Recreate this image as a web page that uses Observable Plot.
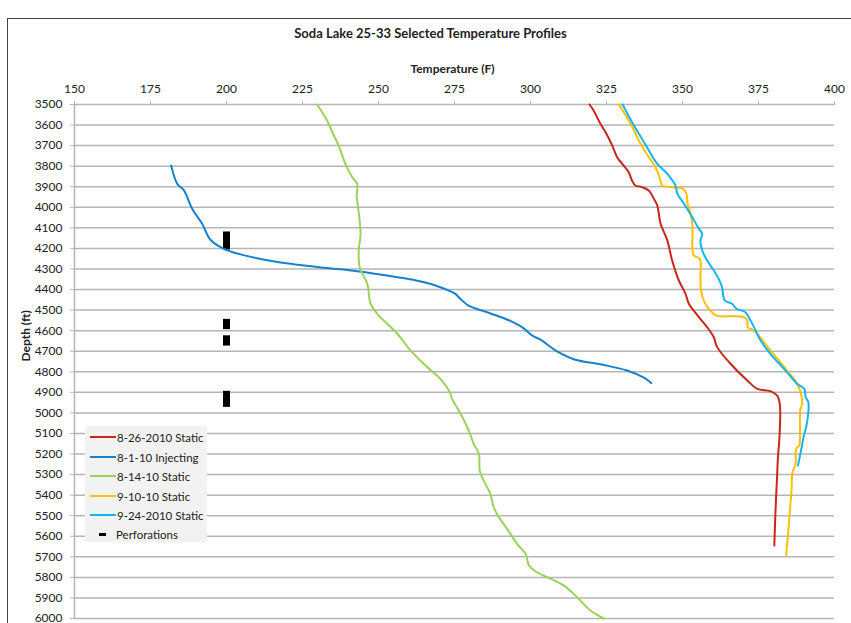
<!DOCTYPE html>
<html>
<head>
<meta charset="utf-8">
<script src="https://cdn.jsdelivr.net/npm/d3@7"></script>
<script src="https://cdn.jsdelivr.net/npm/@observablehq/plot@0.6"></script>
<style>
  html, body { margin: 0; padding: 0; background: #fff; }
  #wrap { position: relative; width: 851px; height: 623px; overflow: hidden; font-family: Lato, "Open Sans", sans-serif; }
  #frame { position: absolute; left: 7px; top: 18px; width: 900px; height: 700px; border-left: 1.5px solid #444; border-top: 1.5px solid #444; }
  #chart { position: absolute; left: 0; top: 0; }
  #legend { position: absolute; left: 85px; top: 426px; width: 122px; height: 116px; background: #f2f2f2; font-size: 11.5px; color: #222; }
  .row { position: absolute; left: 5px; height: 14px; display: flex; align-items: center; white-space: nowrap; }
  .sw { width: 26px; height: 2px; margin-right: 1px; }
  .perf { width: 7px; height: 3px; background: #000; margin: 0 10px 0 9px; }
</style>
</head>
<body>
<div id="wrap">
  <div id="frame"></div>
  <div id="chart"></div>
  <div id="legend"></div>
</div>
<script>
// ---- Data ----
const title = "Soda Lake 25-33 Selected Temperature Profiles";
const xLabel = "Temperature (F)";
const yLabel = "Depth (ft)";
const tempTicks = [150, 175, 200, 225, 250, 275, 300, 325, 350, 375, 400];
const depthTicks = [3500, 3600, 3700, 3800, 3900, 4000, 4100, 4200, 4300, 4400, 4500, 4600, 4700, 4800, 4900, 5000, 5100, 5200, 5300, 5400, 5500, 5600, 5700, 5800, 5900, 6000];

const seriesNames = ["8-26-2010 Static", "8-1-10 Injecting", "8-14-10 Static", "9-10-10 Static", "9-24-2010 Static"];
const seriesColors = ["#c9261b", "#1681cf", "#98d35a", "#ffc000", "#13b5ee"];

const redDepth = [3500, 3530, 3594, 3635, 3700, 3756, 3789, 3829, 3870, 3894, 3902, 3918, 3959, 3991, 4080, 4161, 4259, 4356, 4421, 4469, 4534, 4583, 4632, 4680, 4761, 4842, 4883, 4894, 4915, 4956, 5118, 5215, 5313, 5475, 5645];
const redTemp  = [319.4, 320.8, 323.0, 324.7, 326.9, 328.5, 330.2, 332.3, 333.4, 334.5, 336.7, 338.9, 340.6, 341.7, 342.8, 345.0, 346.6, 348.8, 351.0, 352.1, 355.4, 358.1, 360.3, 361.4, 365.8, 371.3, 374.6, 378.9, 381.1, 382.0, 381.9, 381.4, 381.1, 380.6, 380.2];

const blueDepth = [3797, 3886, 3918, 4007, 4080, 4158, 4202, 4229, 4251, 4275, 4294, 4311, 4340, 4356, 4380, 4421, 4445, 4478, 4502, 4542, 4583, 4623, 4648, 4696, 4740, 4765, 4794, 4829, 4855];
const blueTemp  = [181.8, 183.8, 186.0, 188.7, 192.0, 194.7, 199.1, 204.6, 211.2, 221.1, 232.0, 243.0, 256.2, 262.4, 268.7, 275.3, 276.9, 279.6, 284.0, 291.7, 297.2, 300.5, 303.8, 308.2, 314.5, 323.5, 331.8, 337.3, 339.7];

const greenDepth = [3500, 3578, 3635, 3700, 3789, 3853, 3886, 3943, 3967, 4129, 4210, 4291, 4372, 4469, 4518, 4615, 4696, 4777, 4842, 4907, 4932, 5004, 5086, 5150, 5199, 5280, 5329, 5394, 5459, 5507, 5564, 5637, 5686, 5742, 5770, 5799, 5840, 5896, 5961, 6000];
const greenTemp  = [229.8, 233.1, 234.8, 236.9, 239.1, 241.3, 243.0, 242.8, 243.0, 244.1, 243.5, 243.8, 246.3, 247.4, 249.6, 256.2, 260.5, 266.0, 270.8, 273.7, 274.2, 277.0, 279.7, 281.3, 283.0, 283.3, 284.6, 286.8, 287.9, 289.6, 292.3, 295.6, 298.4, 299.5, 301.6, 305.5, 311.0, 315.3, 319.7, 324.1];

const yellowDepth = [3500, 3594, 3691, 3756, 3805, 3870, 3894, 3902, 3910, 3934, 3983, 4016, 4080, 4210, 4234, 4251, 4340, 4405, 4461, 4502, 4526, 4534, 4551, 4586, 4599, 4696, 4794, 4858, 4948, 4988, 5158, 5175, 5248, 5288, 5369, 5442, 5556, 5693];
const yellowTemp  = [329.1, 332.9, 336.2, 338.9, 341.1, 342.8, 343.3, 346.6, 350.2, 351.3, 351.7, 352.4, 353.2, 353.3, 353.7, 355.7, 355.9, 356.1, 357.2, 359.2, 360.9, 370.2, 371.3, 371.5, 373.5, 378.9, 384.4, 387.7, 389.4, 388.7, 388.4, 387.4, 387.2, 386.2, 385.9, 385.5, 384.9, 384.1];

const cyanDepth = [3500, 3594, 3700, 3789, 3837, 3894, 3934, 3983, 4048, 4105, 4129, 4161, 4210, 4259, 4307, 4348, 4388, 4453, 4469, 4494, 4510, 4551, 4583, 4648, 4713, 4794, 4858, 4883, 4924, 4948, 5061, 5118, 5167, 5256];
const cyanTemp  = [330.3, 333.7, 338.0, 341.7, 345.0, 347.7, 348.3, 350.5, 353.2, 355.4, 356.5, 355.9, 356.5, 358.1, 360.3, 361.9, 363.0, 363.9, 366.3, 367.8, 370.7, 372.4, 373.5, 375.7, 378.9, 383.9, 387.7, 390.1, 390.5, 391.4, 390.8, 389.8, 389.2, 388.0];

const perfLabel = "Perforations";
const perfTemp = 200;
const perfTop    = [4120, 4545, 4625, 4895];
const perfBottom = [4208, 4595, 4675, 4973];

// ---- Build table ----
const depths = [redDepth, blueDepth, greenDepth, yellowDepth, cyanDepth];
const temps = [redTemp, blueTemp, greenTemp, yellowTemp, cyanTemp];
const rows = [];
seriesNames.forEach((name, i) => {
  depths[i].forEach((d, j) => rows.push({series: name, depth: d, temp: temps[i][j]}));
});
const perfs = perfTop.map((t, i) => ({top: t, bottom: perfBottom[i]}));

const font = "Lato, 'Open Sans', sans-serif";

const chart = Plot.plot({
  width: 851,
  height: 623,
  marginTop: 104,
  marginLeft: 74,
  marginRight: 17,
  marginBottom: 5,
  style: {fontFamily: font, fontSize: "12px", color: "#222", background: "transparent"},
  x: {domain: [150, 400], axis: null},
  y: {domain: [3500, 6000], reverse: true, axis: null},
  color: {domain: seriesNames, range: seriesColors},
  marks: [
    Plot.ruleY(depthTicks, {x1: 150, x2: 400, stroke: "#b5b5b5", strokeWidth: 1.5}),
    Plot.ruleX([150], {stroke: "#b5b5b5", strokeWidth: 1.5}),
    Plot.axisX({anchor: "top", ticks: tempTicks, tickSize: 4, tickPadding: 8, stroke: "#b5b5b5", fill: "#222", fontSize: 12, label: null, tickFormat: d => String(d)}),
    Plot.axisY({anchor: "left", ticks: depthTicks, tickSize: 4, tickPadding: 8, stroke: "#b5b5b5", fill: "#222", fontSize: 12, label: null, tickFormat: d => String(d)}),
    Plot.ruleX(perfs, {x: () => perfTemp, y1: "top", y2: "bottom", stroke: "#000", strokeWidth: 7}),
    Plot.line(rows, {x: "temp", y: "depth", z: "series", stroke: "series", strokeWidth: 2, curve: "catmull-rom"}),
    Plot.text([title], {text: d => d, frameAnchor: "top", dx: -24, dy: -71, lineAnchor: "middle", fontWeight: "bold", fontSize: 13, fill: "#222"}),
    Plot.text([xLabel], {text: d => d, frameAnchor: "top", dx: -2, dy: -35, lineAnchor: "middle", fontWeight: "bold", fontSize: 12, fill: "#222"}),
    Plot.text([yLabel], {text: d => d, frameAnchor: "left", dx: -48, rotate: -90, fontWeight: "bold", fontSize: 12, fill: "#222"})
  ]
});
document.getElementById("chart").appendChild(chart);

// ---- Legend ----
const legend = document.getElementById("legend");
const rowTops = [4, 24, 43, 63, 82];
seriesNames.forEach((name, i) => {
  const r = document.createElement("div");
  r.className = "row";
  r.style.top = rowTops[i] + "px";
  r.innerHTML = `<div class="sw" style="background:${seriesColors[i]}"></div><span>${name}</span>`;
  legend.appendChild(r);
});
const pr = document.createElement("div");
pr.className = "row";
pr.style.top = "101px";
pr.innerHTML = `<div class="perf"></div><span>${perfLabel}</span>`;
legend.appendChild(pr);
</script>
</body>
</html>
